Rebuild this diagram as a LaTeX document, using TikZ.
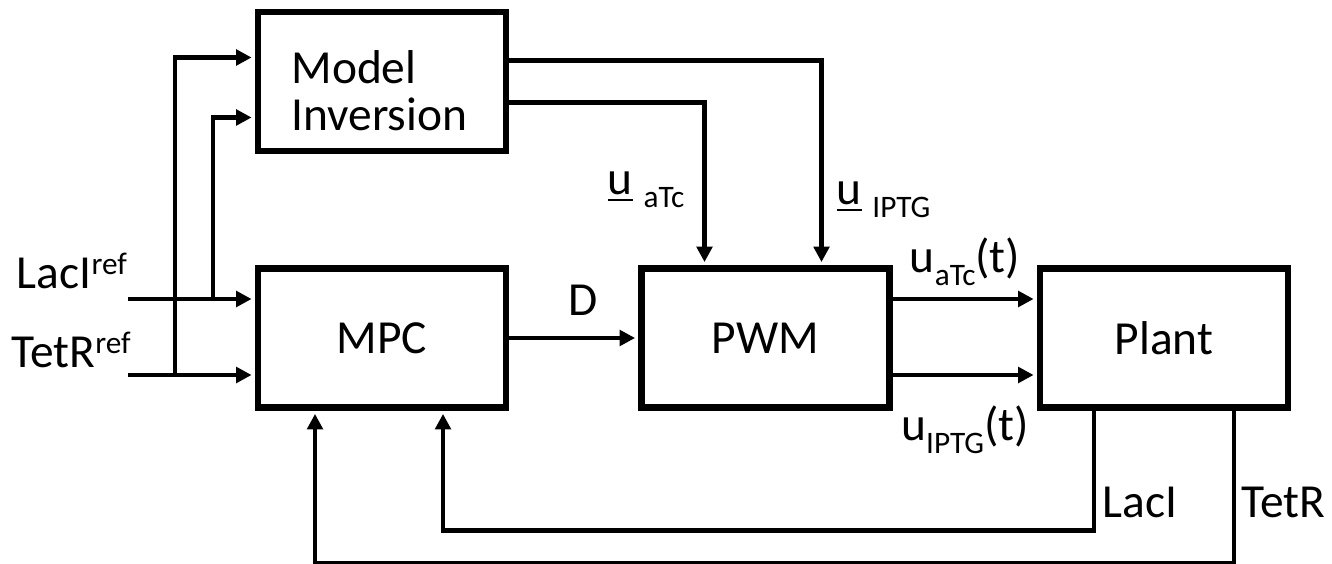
\documentclass[tikz,border=0pt]{standalone}
\usepackage{fontspec}
\setmainfont{Carlito}
\usetikzlibrary{positioning, arrows.meta, calc}

% small raised / lowered text, as on the slide
\newcommand{\lowsub}[1]{\raisebox{-0.13cm}{\fontsize{8.9}{9}\selectfont #1}}
\newcommand{\highsup}[1]{\raisebox{0.14cm}{\fontsize{8.9}{9}\selectfont #1}}

\begin{document}
\begin{tikzpicture}[
    % Default style for nodes
    every node/.style={font=\fontsize{13.5}{13.5}\selectfont, inner sep=0pt},
    % Thick boxes
    block/.style={draw, line width=1.85pt, minimum width=2.48cm, minimum height=1.39cm},
    % Signal lines with a filled head
    sig/.style={line width=1.35pt, -{Triangle[length=4.4pt,width=4.4pt]}, shorten >=0.9pt}
  ]
  \useasboundingbox (0,0) rectangle (13.32,5.63);

  % --- Offsets of the two lanes into/out of a box ---
  \def\Up{0.39}
  \def\Dn{0.37}

  % --- Blocks ---
  \node[block] (mpc) at (3.82,2.25) {MPC};
  \node[block, above=1.11cm of mpc] (inv) {};
  \node[align=left, anchor=west] (invtxt) at ($(inv.west)+(0.36,-0.09)$) {Model\\Inversion};
  \node[block, right=1.29cm of mpc] (pwm) {PWM};
  \node[block, right=1.44cm of pwm] (plant) {Plant};

  % --- References in ---
  \coordinate (laciin) at (1.28,2.25+\Up);
  \coordinate (tetrin) at (1.28,2.25-\Dn);
  \coordinate (tapL) at (2.13,2.25+\Up);
  \coordinate (tapT) at (1.75,2.25-\Dn);
  \node (laciref) at (0.72,2.92) {LacI\highsup{ref}};
  \node (tetrref) at (0.71,2.13) {TetR\highsup{ref}};
  \draw[sig] (laciin) -- (laciin -| mpc.west);
  \draw[sig] (tetrin) -- (tetrin -| mpc.west);
  \draw[sig] (tapT) |- ($(inv.west)+(0,0.24)$);
  \draw[sig] (tapL) |- ($(inv.west)+(0,-0.36)$);

  % --- Model inversion to PWM ---
  \draw[sig] ($(inv.east)+(0,0.21)$) -| ($(pwm.north)+(0.56,0)$);
  \draw[sig] ($(inv.east)+(0,-0.21)$) -| ($(pwm.north)+(-0.61,0)$);
  \node[anchor=east] (uatclab) at (6.85,3.73) {\underline{u} \lowsub{aTc}};
  \node[anchor=west] (uiptglab) at (8.36,3.63) {\underline{u} \lowsub{IPTG}};

  % --- MPC to PWM ---
  \draw[sig] (mpc) -- (pwm);
  \node (dlab) at (5.83,2.63) {D};

  % --- PWM to plant ---
  \draw[sig] ($(pwm.east)+(0,\Up)$) -- ($(plant.west)+(0,\Up)$);
  \draw[sig] ($(pwm.east)+(0,-\Dn)$) -- ($(plant.west)+(0,-\Dn)$);
  \node (uatct) at (9.65,3.01) {u\lowsub{aTc}(t)};
  \node (uiptgt) at (9.65,1.33) {u\lowsub{IPTG}(t)};

  % --- Feedback to MPC ---
  \draw[sig] ($(plant.south)+(-0.70,0)$) |- ($(mpc.south)+(0.61,-1.195)$) -- ($(mpc.south)+(0.61,0)$);
  \draw[sig] ($(plant.south)+(0.70,0)$) |- ($(mpc.south)+(-0.67,-1.525)$) -- ($(mpc.south)+(-0.67,0)$);
  \node (lacilab) at (11.40,0.61) {LacI};
  \node (tetrlab) at (12.83,0.61) {TetR};
\end{tikzpicture}
\end{document}
